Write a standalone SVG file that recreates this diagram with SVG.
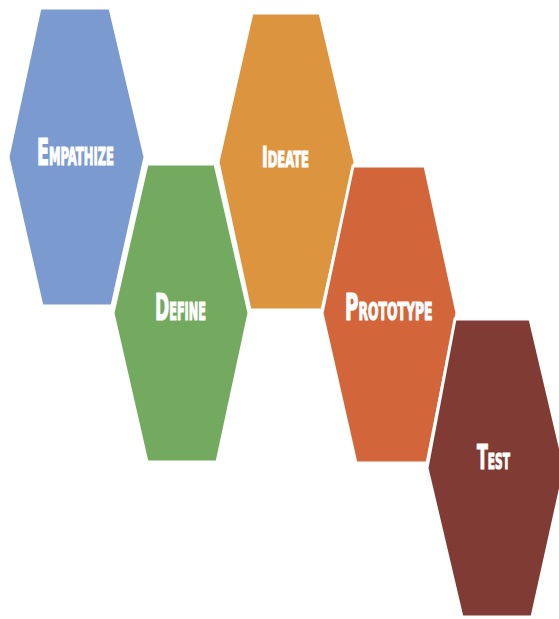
<svg xmlns="http://www.w3.org/2000/svg" width="559" height="619" viewBox="0 0 559 619">
<style>
.hex{stroke:#ffffff;stroke-width:3;stroke-linejoin:miter}
.lbl{font-family:"DejaVu Sans Condensed","DejaVu Sans","Liberation Sans",sans-serif;font-weight:bold;fill:#ffffff;stroke:#ffffff;stroke-width:1.2}
</style>
<rect width="559" height="619" fill="#ffffff"/>
<g id="connectors"></g>
<g id="empathize">
<polygon class="hex" fill="#7B9BD0" points="40,8 110,8 145,157 112,306 42,306 8,157"/>
<text class="lbl" transform="translate(37,165) scale(0.515,1)"><tspan font-size="38">E</tspan><tspan font-size="25">MPATHIZE</tspan></text>
</g>
<g id="define">
<polygon class="hex" fill="#73AA5F" points="147,164 215,164 249,313 217,462 147,462 113,313"/>
<text class="lbl" transform="translate(155,320) scale(0.501,1)"><tspan font-size="38">D</tspan><tspan font-size="25">EFINE</tspan></text>
</g>
<g id="ideate">
<polygon class="hex" fill="#DD943E" points="252,13 320,13 355,162 322,310 250,310 218,162"/>
<text class="lbl" transform="translate(262,167) scale(0.612,1)"><tspan font-size="28">I</tspan><tspan font-size="21">DEATE</tspan></text>
</g>
<g id="prototype">
<polygon class="hex" fill="#D3653B" points="353,166 425,166 457,313 427,463 356,463 322,313"/>
<text class="lbl" transform="translate(345,320) scale(0.551,1)"><tspan font-size="37">P</tspan><tspan font-size="25">ROTOTYPE</tspan></text>
</g>
<g id="test">
<polygon class="hex" fill="#803C34" points="455,319 530,319 565,468 532,617 462,617 427,468"/>
<text class="lbl" transform="translate(477,469) scale(0.535,1)"><tspan font-size="33">T</tspan><tspan font-size="22">EST</tspan></text>
</g>
</svg>
